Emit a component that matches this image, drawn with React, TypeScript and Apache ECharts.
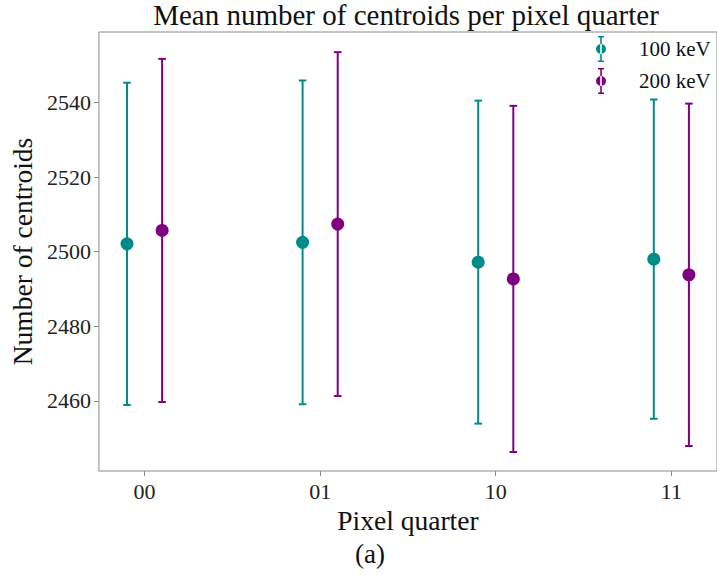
import React, { useEffect, useRef } from "react";
import * as echarts from "echarts";

const categories = ["00", "01", "10", "11"];
const mean100 = [2502.1, 2502.5, 2497.2, 2498.0];
const err100 = [43.2, 43.4, 43.3, 42.8];
const mean200 = [2505.7, 2507.4, 2492.7, 2493.8];
const err200 = [46.0, 46.1, 46.4, 45.9];
const yTicks = [2460, 2480, 2500, 2520, 2540];
const seriesNames = ["100 keV", "200 keV"];

const TEAL = "#008b8b";
const PURPLE = "#800080";
const FONT = "'Liberation Serif', 'DejaVu Serif', serif";

const ICON =
  "path://M3 0 H9 V1.6 H3 Z M5.2 0 H6.8 V26 H5.2 Z M3 24.4 H9 V26 H3 Z M1 13 A5 5 0 1 0 11 13 A5 5 0 1 0 1 13 Z";

function errRender(color: string) {
  return (params: any, api: any) => {
    const x = api.value(0);
    const m = api.value(1);
    const e = api.value(2);
    const top = api.coord([x, m + e]);
    const bot = api.coord([x, m - e]);
    const cw = 3.8;
    const style = { stroke: color, lineWidth: 2 };
    return {
      type: "group",
      children: [
        { type: "line", shape: { x1: top[0], y1: top[1], x2: bot[0], y2: bot[1] }, style },
        { type: "line", shape: { x1: top[0] - cw, y1: top[1], x2: top[0] + cw, y2: top[1] }, style },
        { type: "line", shape: { x1: bot[0] - cw, y1: bot[1], x2: bot[0] + cw, y2: bot[1] }, style },
      ],
    };
  };
}

export default function App() {
  const ref = useRef<HTMLDivElement>(null);
  useEffect(() => {
    if (!ref.current) return;
    const chart = echarts.init(ref.current, undefined, { renderer: "svg" });
    const d100 = categories.map((_, i) => [i - 0.1, mean100[i], err100[i]]);
    const d200 = categories.map((_, i) => [i + 0.1, mean200[i], err200[i]]);
    const option: any = {
      animation: false,
      backgroundColor: "#ffffff",
      textStyle: { fontFamily: FONT },
      grid: {
        left: 97,
        top: 32,
        right: -5,
        bottom: 107,
        show: true,
        borderColor: "#8a8a8a",
        borderWidth: 1,
        backgroundColor: "transparent",
      },
      graphic: [
        {
          type: "text",
          x: 406,
          y: 15,
          style: {
            text: "Mean number of centroids per pixel quarter",
            fontFamily: FONT,
            fontSize: 29,
            fill: "#111",
            align: "center",
            verticalAlign: "middle",
          },
        },
        {
          type: "text",
          x: 370,
          y: 554,
          style: {
            text: "(a)",
            fontFamily: FONT,
            fontSize: 27,
            fill: "#111",
            align: "center",
            verticalAlign: "middle",
          },
        },
      ],
      legend: {
        orient: "vertical",
        left: 591,
        top: 31,
        itemWidth: 12,
        itemHeight: 26,
        itemGap: 6,
        data: [
          { name: seriesNames[0], icon: ICON, itemStyle: { color: TEAL } },
          { name: seriesNames[1], icon: ICON, itemStyle: { color: PURPLE } },
        ],
        textStyle: { fontFamily: FONT, fontSize: 21, color: "#111", padding: [0, 0, 0, 27] },
      },
      xAxis: {
        type: "value",
        min: -0.26,
        max: 3.26,
        splitLine: { show: false },
        axisLine: { show: false, onZero: false },
        axisTick: { show: true, length: 5, lineStyle: { color: "#8a8a8a" }, customValues: [0, 1, 2, 3] },
        axisLabel: {
          customValues: [0, 1, 2, 3],
          formatter: (v: number) => categories[Math.round(v)] ?? "",
          fontFamily: FONT,
          fontSize: 22,
          color: "#222",
          margin: 9,
        },
        name: "Pixel quarter",
        nameLocation: "middle",
        nameGap: 32,
        nameTextStyle: { fontFamily: FONT, fontSize: 27.5, color: "#111" },
      },
      yAxis: {
        type: "value",
        min: 2441.2,
        max: 2558.9,
        splitLine: { show: false },
        axisLine: { show: false, onZero: false },
        axisTick: { show: true, length: 5, lineStyle: { color: "#8a8a8a" }, customValues: yTicks },
        axisLabel: {
          customValues: yTicks,
          formatter: (v: number) => String(Math.round(v)),
          fontFamily: FONT,
          fontSize: 22,
          color: "#222",
          margin: 8,
        },
        name: "Number of centroids",
        nameLocation: "middle",
        nameGap: 57,
        nameTextStyle: { fontFamily: FONT, fontSize: 27.5, color: "#111" },
      },
      series: [
        {
          name: seriesNames[0],
          type: "custom",
          renderItem: errRender(TEAL),
          data: d100,
          itemStyle: { color: TEAL },
          encode: { x: 0, y: 1 },
          z: 2,
        },
        {
          name: seriesNames[1],
          type: "custom",
          renderItem: errRender(PURPLE),
          data: d200,
          itemStyle: { color: PURPLE },
          encode: { x: 0, y: 1 },
          z: 2,
        },
        {
          name: seriesNames[0],
          type: "scatter",
          data: d100.map((d) => [d[0], d[1]]),
          symbol: "circle",
          symbolSize: 13,
          itemStyle: { color: TEAL, opacity: 1 },
          z: 3,
        },
        {
          name: seriesNames[1],
          type: "scatter",
          data: d200.map((d) => [d[0], d[1]]),
          symbol: "circle",
          symbolSize: 13,
          itemStyle: { color: PURPLE, opacity: 1 },
          z: 3,
        },
      ],
    };
    chart.setOption(option);
    return () => chart.dispose();
  }, []);
  return (
    <div
      ref={ref}
      style={{ position: "fixed", left: 0, top: 0, width: 717, height: 578, background: "#fff" }}
    />
  );
}
